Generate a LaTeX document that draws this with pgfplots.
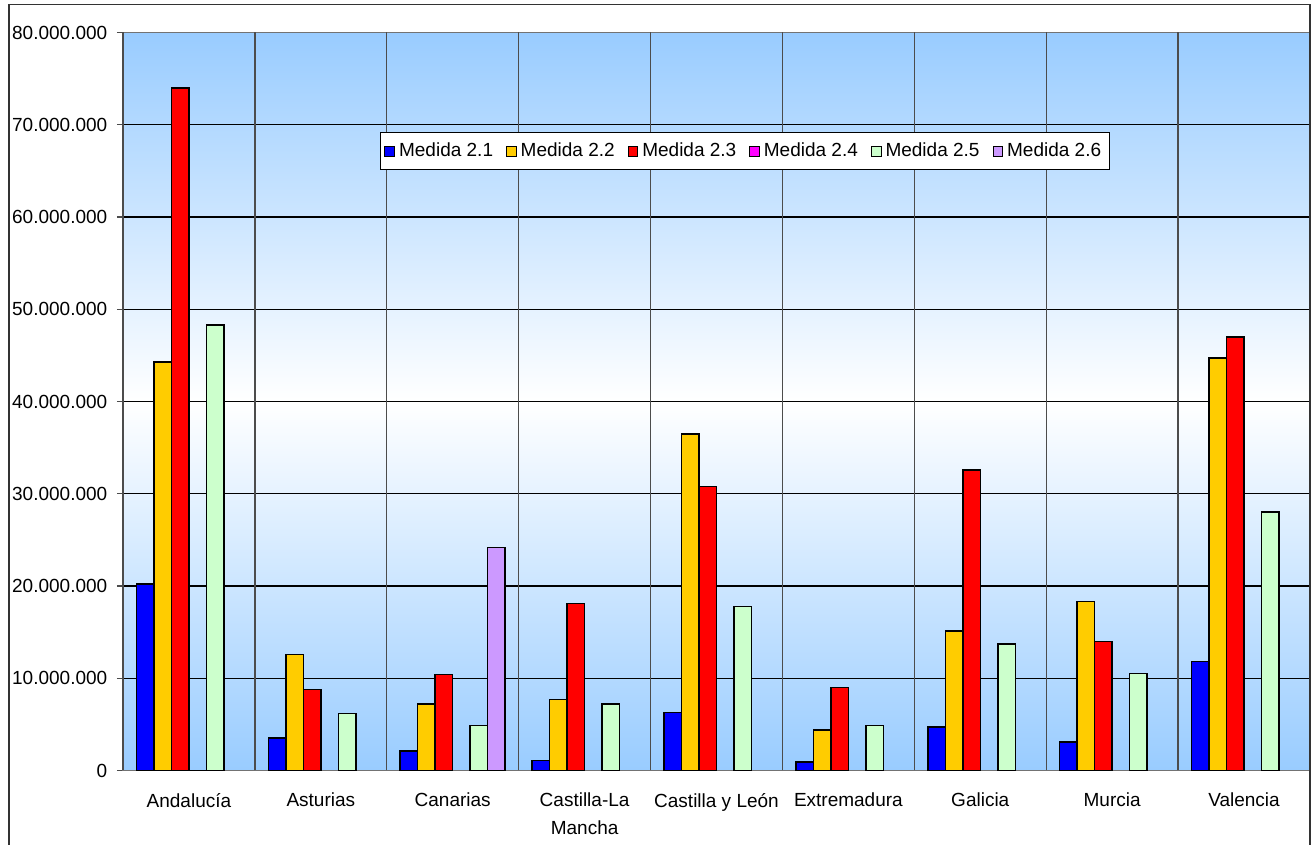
\documentclass[border=0pt]{standalone}
\usepackage{fontspec}
\setmainfont{Liberation Sans}
\usepackage{pgfplots}
\pgfplotsset{compat=1.18}
\definecolor{bgblue}{RGB}{153,204,255}
\definecolor{c1}{RGB}{0,0,255}
\definecolor{c2}{RGB}{255,204,0}
\definecolor{c3}{RGB}{255,0,0}
\definecolor{c4}{RGB}{255,0,255}
\definecolor{c5}{RGB}{204,255,204}
\definecolor{c6}{RGB}{204,153,255}
\begin{document}
\fontsize{9.5pt}{11.5pt}\selectfont
\begin{tikzpicture}
\useasboundingbox (-61.5pt,-37.25pt) rectangle (594.5pt,385.25pt);
\begin{axis}[
  scale only axis,
  width=593.5pt, height=369pt,
  xmin=-0.5, xmax=8.5, ymin=0, ymax=80,
  ybar=0pt, bar width=8.75pt,
  xtick={0,...,8},
  xticklabels={Andaluc\'ia,Asturias,Canarias,{Castilla-La\\Mancha},Castilla y Le\'on,Extremadura,Galicia,Murcia,Valencia},
  xticklabel style={align=center, yshift=-5pt, font=\fontsize{9.5pt}{14pt}\selectfont},
  major x tick style={draw=none},
  extra x ticks={-0.5,0.5,1.5,2.5,3.5,4.5,5.5,6.5,7.5},
  extra x tick labels={},
  extra x tick style={grid=major, major grid style={draw=black!70, line width=0.7pt}, major tick length=4pt, tick style={draw=black!70, line width=0.7pt}},
  ytick={0,10,...,80},
  yticklabels={0,10.000.000,20.000.000,30.000.000,40.000.000,50.000.000,60.000.000,70.000.000,80.000.000},
  yticklabel style={xshift=-1.5pt},
  ymajorgrids,
  major grid style={draw=black, line width=0.6pt},
  tick align=outside, tick pos=left,
  major tick length=3pt,
  tick style={draw=black!70, line width=0.6pt},
  axis line style={draw=black!55, line width=0.9pt},
  axis background/.style={top color=bgblue, bottom color=bgblue, middle color=white},
  legend style={at={(0.2165,0.8645)}, anchor=north west, legend columns=6, draw=black, line width=0.5pt, fill=white,
    inner xsep=2pt, inner ysep=3pt,
    /tikz/every even column/.append style={column sep=4.5pt},
    font=\fontsize{9.5pt}{11.5pt}\selectfont},
  legend image code/.code={\draw[#1, line width=0.5pt] (0pt,-2.4pt) rectangle (4.8pt,2.4pt);},
  every axis plot/.append style={draw=black, line width=0.75pt},
]
\addplot[fill=c1] coordinates {(0,20.2) (1,3.5) (2,2.1) (3,1.1) (4,6.3) (5,0.9) (6,4.7) (7,3.1) (8,11.8)};
\addplot[fill=c2] coordinates {(0,44.3) (1,12.6) (2,7.2) (3,7.7) (4,36.5) (5,4.4) (6,15.1) (7,18.3) (8,44.7)};
\addplot[fill=c3] coordinates {(0,74.0) (1,8.8) (2,10.4) (3,18.1) (4,30.8) (5,9.0) (6,32.6) (7,14.0) (8,47.0)};
\addplot[fill=c4] coordinates {(0,0)};
\addplot[fill=c5] coordinates {(0,48.3) (1,6.2) (2,4.9) (3,7.2) (4,17.8) (5,4.9) (6,13.7) (7,10.5) (8,28.0)};
\addplot[fill=c6] coordinates {(2,24.2)};
\legend{Medida 2.1,Medida 2.2,Medida 2.3,Medida 2.4,Medida 2.5,Medida 2.6}
\end{axis}
\draw[line width=0.8pt, black!80] (-57pt,-45pt) -- (-57pt,383pt) -- (593.5pt,383pt) -- (593.5pt,-45pt);
\end{tikzpicture}
\end{document}
